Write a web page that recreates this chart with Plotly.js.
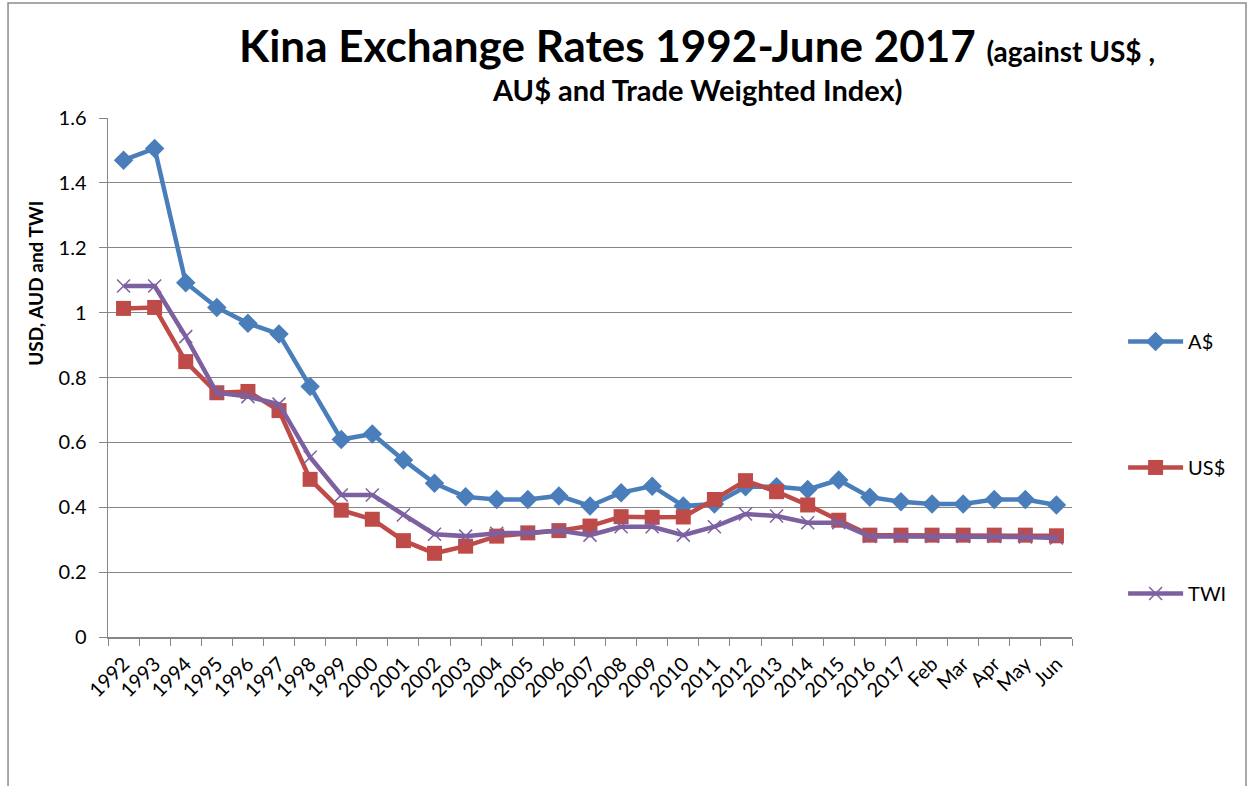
<!DOCTYPE html>
<html>
<head>
<meta charset="utf-8">
<script src="https://cdn.plot.ly/plotly-3.0.1.min.js"></script>
<style>html,body{margin:0;padding:0;background:#fff;}#chart{width:1253px;height:786px;}</style>
</head>
<body>
<div id="chart"></div>
<script>
const categories = ["1992","1993","1994","1995","1996","1997","1998","1999","2000","2001","2002","2003","2004","2005","2006","2007","2008","2009","2010","2011","2012","2013","2014","2015","2016","2017","Feb","Mar","Apr","May","Jun"];
const audValues = [1.470,1.506,1.092,1.016,0.967,0.934,0.772,0.609,0.626,0.546,0.474,0.432,0.424,0.424,0.435,0.404,0.445,0.465,0.404,0.410,0.463,0.463,0.455,0.484,0.431,0.417,0.410,0.410,0.424,0.424,0.407];
const usdValues = [1.013,1.016,0.849,0.753,0.757,0.698,0.486,0.391,0.363,0.297,0.258,0.280,0.311,0.321,0.328,0.342,0.371,0.369,0.370,0.424,0.482,0.448,0.407,0.360,0.314,0.314,0.314,0.314,0.314,0.314,0.312];
const twiValues = [1.082,1.082,0.926,0.753,0.741,0.718,0.554,0.438,0.438,0.376,0.317,0.311,0.320,0.321,0.328,0.314,0.340,0.340,0.314,0.340,0.379,0.373,0.352,0.352,0.310,0.310,0.310,0.310,0.310,0.308,0.305];
const yTicks = [0,0.2,0.4,0.6,0.8,1,1.2,1.4,1.6];
const yTickText = ["0","0.2","0.4","0.6","0.8","1","1.2","1.4","1.6"];

const FONT = "Lato, 'Open Sans', sans-serif";
const traces = [
  {x: categories, y: audValues, name: "A$", type: "scatter", mode: "lines+markers", legendgroup: "a",
   line: {color: "#4A7EBB", width: 4.5}, marker: {symbol: "diamond", size: 15, color: "#4A7EBB"}},
  {x: categories, y: usdValues, name: "US$", type: "scatter", mode: "lines+markers", legendgroup: "b",
   line: {color: "#BE4B48", width: 4.5}, marker: {symbol: "square", size: 15, color: "#BE4B48"}},
  {x: categories, y: twiValues, name: "TWI", type: "scatter", mode: "lines+markers", legendgroup: "c",
   line: {color: "#7D60A0", width: 4.5}, marker: {symbol: "x-thin", size: 13, color: "#7D60A0", line: {color: "#7D60A0", width: 1.5}}}
];

const layout = {
  width: 1253, height: 786,
  margin: {l: 108, r: 181, t: 118, b: 149},
  paper_bgcolor: "#ffffff", plot_bgcolor: "#ffffff",
  font: {family: FONT, color: "#000", size: 20},
  showlegend: true,
  legend: {x: 1.053, xanchor: "left", y: 0.607, yanchor: "top", traceorder: "grouped", tracegroupgap: 97,
           font: {family: FONT, size: 20, color: "#000"}, itemwidth: 55, bgcolor: "rgba(0,0,0,0)"},
  xaxis: {type: "category", range: [-0.5, 30.5], tickangle: -45, tickson: "boundaries",
          ticks: "outside", ticklen: 7, tickcolor: "#868686", showline: true, linecolor: "#868686", linewidth: 1.5,
          showgrid: false, tickfont: {family: FONT, size: 20}, ticklabelstandoff: 6, fixedrange: true},
  yaxis: {range: [0, 1.6], tickvals: yTicks, ticktext: yTickText, ticks: "outside", ticklen: 8, tickcolor: "#868686",
          showline: true, linecolor: "#868686", linewidth: 1.5, showgrid: true, gridcolor: "#868686", gridwidth: 1.2,
          zeroline: false, tickfont: {family: FONT, size: 20}, ticklabelstandoff: 8},
  annotations: [
    {xref: "paper", yref: "paper", x: 0.611, y: 1.14, xanchor: "center", yanchor: "middle", showarrow: false,
     text: "<b>Kina Exchange Rates 1992-June 2017 <span style='font-size:28px'>(against US$ ,</span></b>",
     font: {family: FONT, size: 44, color: "#000"}},
    {xref: "paper", yref: "paper", x: 0.611, y: 1.054, xanchor: "center", yanchor: "middle", showarrow: false,
     text: "<b>AU$ and Trade Weighted Index)</b>", font: {family: FONT, size: 29, color: "#000"}},
    {xref: "paper", yref: "paper", x: -0.076, y: 0.682, xanchor: "center", yanchor: "middle", showarrow: false,
     textangle: -90, text: "<b>USD, AUD and TWI</b>", font: {family: FONT, size: 19, color: "#000"}}
  ],
  shapes: [
    {type: "rect", xref: "paper", yref: "paper", x0: -0.1037, x1: 1.1805, y0: -0.3, y1: 1.2216,
     line: {color: "#8c8c8c", width: 1.5}, fillcolor: "rgba(0,0,0,0)"}
  ]
};
Plotly.newPlot("chart", traces, layout, {displayModeBar: false, staticPlot: true});
</script>
</body>
</html>
